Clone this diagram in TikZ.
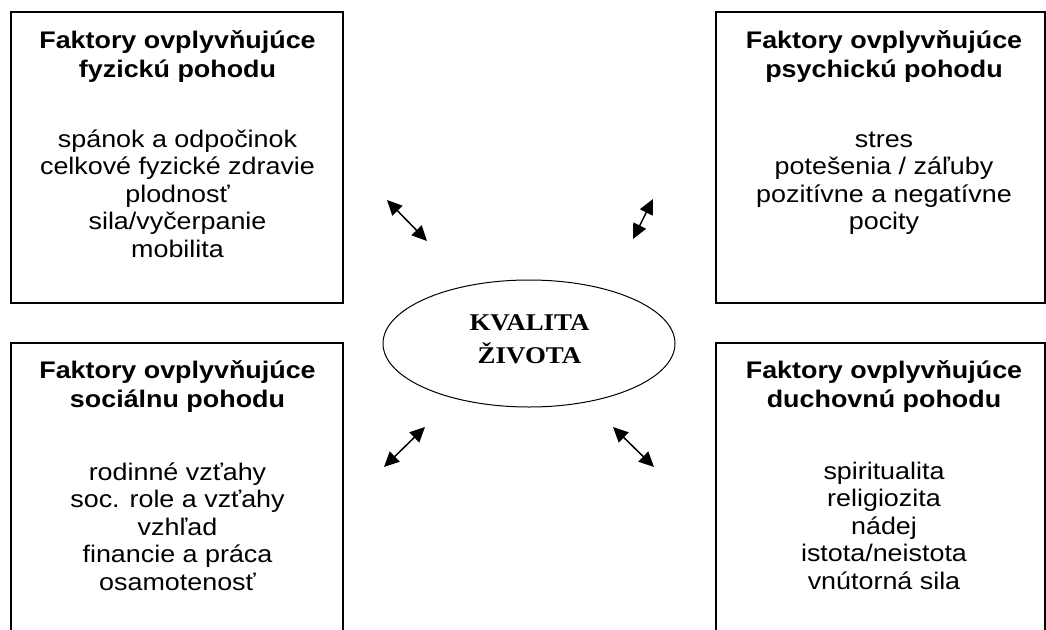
\documentclass[tikz,border=0pt]{standalone}
\usepackage{fontspec}
\setmainfont[FakeStretch=1.12]{Liberation Sans}
\newfontfamily\kvfont[FakeStretch=1.12]{Liberation Serif}
\usetikzlibrary{shapes.geometric,arrows.meta}
\begin{document}
\begin{tikzpicture}[x=1pt,y=-1pt,
  box/.style={draw=black,line width=1.3pt,rectangle,inner sep=0pt},
  headtxt/.style={anchor=north,inner sep=0pt,align=center,font=\fontsize{24}{29.5}\selectfont\bfseries},
  bodytxt/.style={anchor=north,inner sep=0pt,align=center,font=\fontsize{24}{27.6}\selectfont},
  link/.style={line width=1.5pt,{Triangle[length=15pt,width=14pt]}-{Triangle[length=15pt,width=14pt]}}]
\path[use as bounding box] (0,0) rectangle (1046,629);
\clip (0,0) rectangle (1046,629);
% boxes
\node[box,minimum width=332pt,minimum height=291pt] (fyz) at (177,157.5) {};
\node[box,minimum width=329pt,minimum height=291pt] (psy) at (880.5,157.5) {};
\node[box,minimum width=332pt,minimum height=297pt] (soc) at (177,491.5) {};
\node[box,minimum width=329pt,minimum height=297pt] (duch) at (880.5,491.5) {};
% texts top left
\node[headtxt] (fyzh) at (177.5,27.4) {\strut Faktory ovplyvňujúce\\fyzickú pohodu};
\node[bodytxt] (fyzb) at (177.5,127.6) {\strut spánok a odpočinok\\celkové fyzické zdravie\\plodnosť\\sila/vyčerpanie\\mobilita};
% texts top right
\node[headtxt] (psyh) at (884,27.4) {\strut Faktory ovplyvňujúce\\psychickú pohodu};
\node[bodytxt] (psyb) at (884,127.6) {\strut stres\\potešenia / záľuby\\pozitívne a negatívne\\pocity};
% texts bottom left
\node[headtxt] (soch) at (177.5,357.4) {\strut Faktory ovplyvňujúce\\sociálnu pohodu};
\node[bodytxt] (socb) at (177.5,460.6) {\strut rodinné vzťahy\\soc. role a vzťahy\\vzhľad\\financie a práca\\osamotenosť};
% texts bottom right
\node[headtxt] (duchh) at (884,357.4) {\strut Faktory ovplyvňujúce\\duchovnú pohodu};
\node[bodytxt] (duchb) at (884,459.6) {\strut spiritualita\\religiozita\\nádej\\istota/neistota\\vnútorná sila};
% centre
\node[draw=black,line width=1pt,ellipse,minimum width=292pt,minimum height=127pt,inner sep=0pt] (kz) at (529,343.5) {};
\node[anchor=north,inner sep=0pt,align=center,font=\fontsize{24}{33}\selectfont\kvfont\bfseries] (kzt) at (529.5,307) {\strut KVALITA\\ŽIVOTA};
% arrows
\coordinate (a1) at (387,200); \coordinate (b1) at (427,241);
\coordinate (a2) at (653,199); \coordinate (b2) at (633,239);
\coordinate (a3) at (425,427); \coordinate (b3) at (384,467);
\coordinate (a4) at (613,427); \coordinate (b4) at (654,467);
\draw[link] (a1) -- (b1);
\draw[link] (a2) -- (b2);
\draw[link] (a3) -- (b3);
\draw[link] (a4) -- (b4);
\end{tikzpicture}
\end{document}
